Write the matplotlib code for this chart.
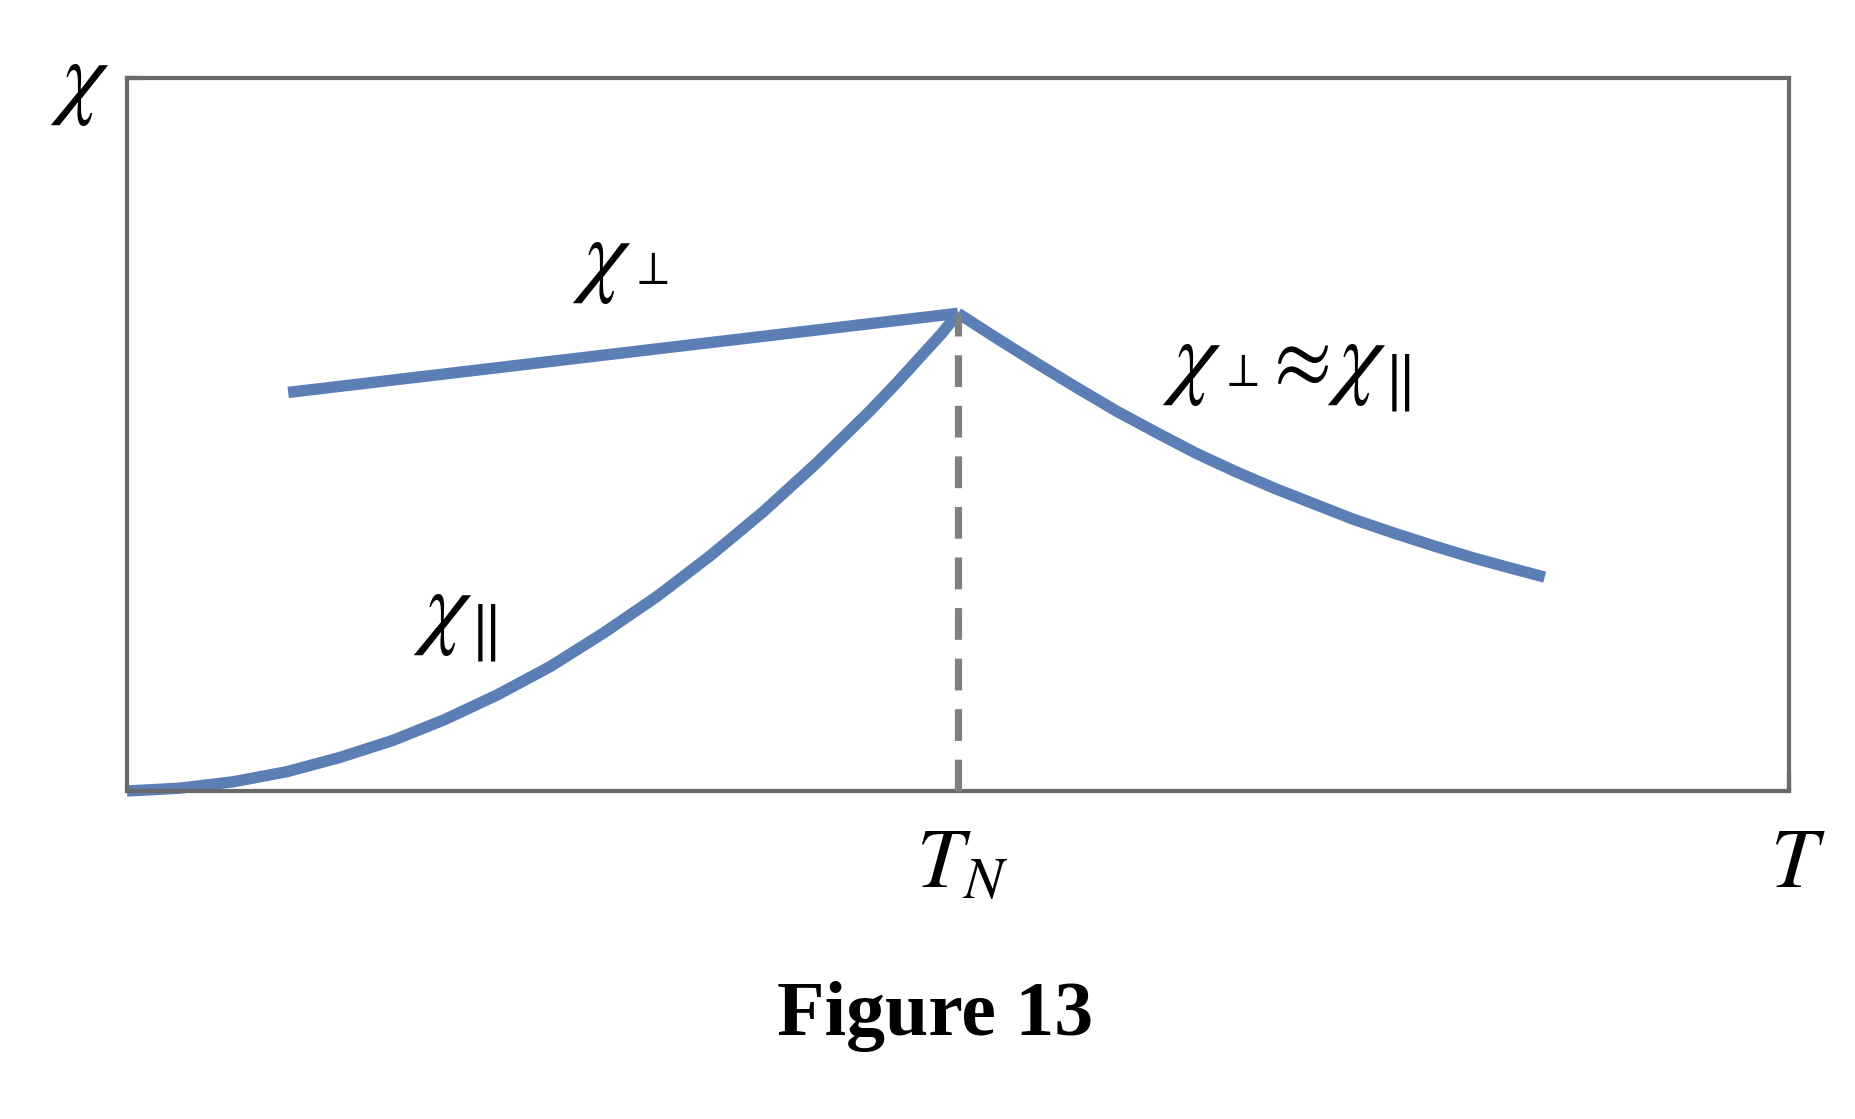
'''
Susceptibility of an antiferromagnet versus temperature (Figure 13)
'''

import matplotlib
matplotlib.use('Agg')
import matplotlib.pyplot as plt

plt.rcParams['mathtext.fontset'] = 'stix'

# chi parallel below T_N
T_par = [0.0, 0.032, 0.064, 0.096, 0.128, 0.160, 0.191, 0.223, 0.255,
         0.287, 0.319, 0.351, 0.383, 0.415, 0.447, 0.463, 0.479, 0.490, 0.5]
chi_par = [0.0, 0.004, 0.013, 0.027, 0.047, 0.071, 0.100, 0.135, 0.175,
           0.222, 0.273, 0.330, 0.392, 0.460, 0.533, 0.572, 0.613, 0.641, 0.670]

# chi perpendicular below T_N
T_perp = [0.097, 0.5]
chi_perp = [0.559, 0.670]

# paramagnetic branch above T_N
T_para = [0.5, 0.512, 0.524, 0.548, 0.572, 0.596, 0.620, 0.643, 0.667, 0.691,
          0.715, 0.738, 0.762, 0.786, 0.810, 0.832, 0.853]
chi_para = [0.670, 0.652, 0.634, 0.599, 0.565, 0.532, 0.502, 0.474, 0.448, 0.424,
            0.402, 0.381, 0.362, 0.344, 0.327, 0.313, 0.300]

T_N = 0.5
line_color = '#5b7fb5'
spine_color = '#6a6a6a'
FS = 61      # T labels
FS_CHI = 68  # chi glyphs
LW = 8.2


def chi_label(ax, x, y, sub, sub_size, dx, dy):
    # chi with a small symbol sitting next to it (Excel style)
    t = ax.text(x, y, r'$\chi$', fontsize=FS_CHI, va='baseline', ha='left')
    s = ax.annotate(sub, xy=(1, 0), xycoords=t, xytext=(dx, dy),
                    textcoords='offset pixels', fontsize=sub_size,
                    va='bottom', ha='left')
    return t, s


def main():
    fig = plt.figure(figsize=(18.56, 11.19), dpi=100)
    ax = fig.add_axes([0.0684, 0.2931, 0.8955, 0.6372])

    ax.plot(T_par, chi_par, color=line_color, lw=LW, solid_capstyle='butt',
            solid_joinstyle='round', clip_on=False)
    ax.plot(T_perp, chi_perp, color=line_color, lw=LW, solid_capstyle='butt',
            clip_on=False)
    ax.plot(T_para, chi_para, color=line_color, lw=LW, solid_capstyle='butt',
            solid_joinstyle='round', clip_on=False)
    ax.plot([T_N, T_N], [0, chi_perp[-1]], color='#808080', lw=5.2,
            dashes=(4.4, 2.6), clip_on=False, zorder=3)

    ax.set_xlim(0, 1)
    ax.set_ylim(0, 1)
    for sp in ax.spines.values():
        sp.set_color(spine_color)
        sp.set_linewidth(3)
    ax.set_xticks([1.0])
    ax.set_yticks([1.0])
    ax.tick_params(direction='in', length=13, width=3, color='black',
                   labelbottom=False, labelleft=False)

    # curve labels
    chi_label(ax, 0.268, 0.711, r'$\perp$', 34, -2, 12)
    chi_label(ax, 0.172, 0.217, r'$\Vert$', 46, -3, -5)

    t1, s1 = chi_label(ax, 0.623, 0.568, r'$\perp$', 34, -2, 12)
    ap = ax.annotate(r'$\approx$', xy=(1, 0), xycoords=(s1, t1),
                     xytext=(2, 6), textcoords='offset pixels',
                     fontsize=FS, va='bottom', ha='left')
    t2 = ax.annotate(r'$\chi$', xy=(1, 0), xycoords=(ap, t1),
                     xytext=(-2, 0), textcoords='offset pixels',
                     fontsize=FS_CHI, va='bottom', ha='left')
    ax.annotate(r'$\Vert$', xy=(1, 0), xycoords=t2, xytext=(-3, -5),
                textcoords='offset pixels', fontsize=46, va='bottom', ha='left')

    # axis labels
    ax.text(-0.046, 0.961, r'$\chi$', fontsize=FS_CHI, va='baseline', ha='left')
    ax.text(0.475, -0.135, r'$T_N$', fontsize=FS, va='baseline', ha='left')
    ax.text(0.9886, -0.135, r'$T$', fontsize=FS, va='baseline', ha='left')

    fig.text(0.504, 0.0751, 'Figure 13', fontsize=56, fontweight='bold',
             family='Liberation Serif', ha='center', va='baseline')

    fig.savefig('out.png', dpi=100)
    plt.close(fig)


if __name__ == '__main__':
    main()
